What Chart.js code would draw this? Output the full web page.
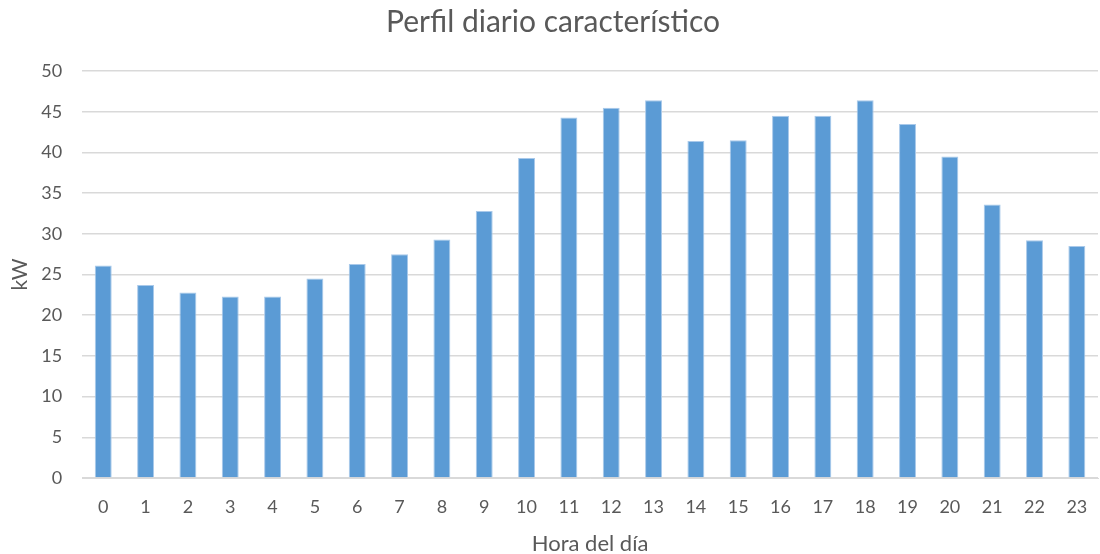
<!DOCTYPE html>
<html>
<head>
<meta charset="utf-8">
<script src="https://cdn.jsdelivr.net/npm/chart.js@4"></script>
<style>
  html, body { margin: 0; padding: 0; background: #fff; }
  #wrap { width: 1100px; height: 554px; position: relative; }
</style>
</head>
<body>
<div id="wrap"><canvas id="chart"></canvas></div>
<script>
// hourly load profile, kW
const hours = ["0","1","2","3","4","5","6","7","8","9","10","11","12","13","14","15","16","17","18","19","20","21","22","23"];
const kw = [26.1, 23.7, 22.8, 22.3, 22.3, 24.5, 26.3, 27.5, 29.3, 32.8, 39.3, 44.3, 45.5, 46.4, 41.4, 41.5, 44.5, 44.5, 46.4, 43.5, 39.5, 33.6, 29.2, 28.5];
const yTicks = [0, 5, 10, 15, 20, 25, 30, 35, 40, 45, 50];

const textColor = '#595959';
const family = 'Lato, "Open Sans", sans-serif';

new Chart(document.getElementById('chart'), {
  type: 'bar',
  data: {
    labels: hours,
    datasets: [{
      label: 'kW',
      data: kw,
      backgroundColor: '#5b9bd5',
      borderColor: '#a9c9ea',
      borderWidth: 1,
      categoryPercentage: 1.0,
      barPercentage: 0.4
    }]
  },
  options: {
    responsive: true,
    maintainAspectRatio: false,
    animation: false,
    layout: { padding: { left: 8, right: 2, top: 4, bottom: 0 } },
    plugins: {
      legend: { display: false },
      tooltip: { enabled: false },
      title: {
        display: true,
        text: 'Perfil diario característico',
        color: textColor,
        font: { family: family, size: 30, weight: 'normal' },
        padding: { top: 0, bottom: 31 }
      }
    },
    scales: {
      x: {
        // let the plot run to the right edge, the last label fits inside its slot
        afterFit: (scale) => { scale.paddingRight = 0; },
        grid: { display: false, drawTicks: false },
        border: { display: true, color: '#d9d9d9' },
        ticks: {
          color: textColor,
          font: { family: family, size: 18 },
          padding: 18,
          maxRotation: 0,
          autoSkip: false
        },
        title: {
          display: true,
          text: 'Hora del día',
          color: textColor,
          font: { family: family, size: 22 },
          padding: { top: -5, bottom: -3 }
        }
      },
      y: {
        min: 0,
        max: 50,
        afterBuildTicks: (axis) => { axis.ticks = yTicks.map(v => ({ value: v })); },
        grid: { color: '#d9d9d9', lineWidth: 1.5, drawTicks: false },
        border: { display: false },
        ticks: {
          color: textColor,
          font: { family: family, size: 18 },
          padding: 20
        },
        title: {
          display: true,
          text: 'kW',
          color: textColor,
          font: { family: family, size: 21 },
          padding: { top: 0, bottom: -12 }
        }
      }
    }
  }
});
</script>
</body>
</html>
